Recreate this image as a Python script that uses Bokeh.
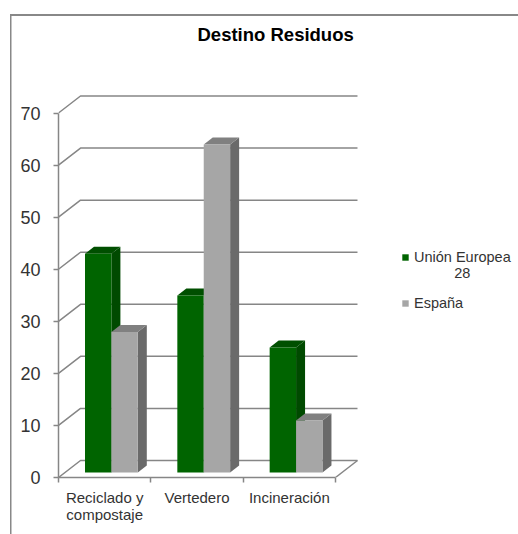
from bokeh.plotting import figure
from bokeh.models import (ColumnDataSource, FixedTicker, Legend,
                          LegendItem, Range1d)
from bokeh.embed import file_html
from bokeh.resources import INLINE

title = "Destino Residuos"
categories = ["Reciclado y\ncompostaje", "Vertedero", "Incineración"]
series_names = ["\u00a0\nUnión Europea\n" + "\u00a0" * 10 + "28", "España"]
union_europea = [42, 34, 24]
espana = [27, 63, 10]
y_ticks = [0, 10, 20, 30, 40, 50, 60, 70]

GRID = "#868686"
TEXT = "#333333"
FRONT = ["#006400", "#a6a6a6"]
TOP = ["#004f00", "#808080"]
SIDE = ["#004a00", "#6a6a6a"]

FRAME_W, FRAME_H = 460, 387
X_PX = 92.33          # pixels per category
Y_PX = 5.207          # pixels per value unit
WALL_DX, WALL_DY = 22 / X_PX, 17 / Y_PX
BAR_DX, BAR_DY = 9 / X_PX, 7 / Y_PX
BAR_X0, BAR_W = 26.5 / X_PX, 26.4 / X_PX
FLOOR = 5 / Y_PX

border_css = ("linear-gradient(#888,#888) 9.5px 14px / 1.5px 520px no-repeat, "
              "linear-gradient(#888,#888) 9.5px 14px / 510px 2px no-repeat")

p = figure(width=518, height=534, output_backend="svg", toolbar_location=None,
           frame_width=FRAME_W, frame_height=FRAME_H,
           x_range=Range1d(0, FRAME_W / X_PX), y_range=Range1d(0, FRAME_H / Y_PX),
           min_border_left=58, min_border_right=0, min_border_top=90, min_border_bottom=57,
           outline_line_color=None, background_fill_color=None, border_fill_color=None,
           styles={"background": border_css})
p.grid.visible = False

p.title.text = title + "\n\u00a0"
p.title.align = "left"
p.title.offset = 139
p.title.standoff = 45
p.title.vertical_align = "top"
p.title.text_font = "Liberation Sans"
p.title.text_font_size = "18.5px"
p.title.text_font_style = "bold"
p.title.text_color = "#000000"

# axes
ya = p.yaxis[0]
ya.ticker = FixedTicker(ticks=y_ticks)
ya.bounds = (0, 70)
ya.major_tick_in, ya.major_tick_out = 0, 5
ya.minor_tick_line_color = None
ya.major_label_standoff = 13
ya.major_label_text_font = "Liberation Sans"
ya.major_label_text_font_size = "18px"
ya.major_label_text_color = TEXT
ya.axis_line_color = ya.major_tick_line_color = GRID
ya.axis_line_width = ya.major_tick_line_width = 1.5

xa = p.xaxis[0]
label_pos = [i + 0.5 for i in range(len(categories))]
xa.ticker = FixedTicker(ticks=label_pos, minor_ticks=list(range(len(categories) + 1)))
xa.major_label_overrides = dict(zip(label_pos, categories))
xa.bounds = (0, len(categories))
xa.major_tick_in, xa.major_tick_out = 0, 0
xa.minor_tick_in, xa.minor_tick_out = 0, 5
xa.major_label_standoff = 6
xa.major_label_text_font = "Liberation Sans"
xa.major_label_text_font_size = "15px"
xa.major_label_text_line_height = 1.05
xa.major_label_text_color = TEXT
xa.axis_line_color = xa.minor_tick_line_color = GRID
xa.axis_line_width = xa.minor_tick_line_width = 1.5

# 3-D walls: diagonal from the axis to the back wall, then along the back wall
n = len(categories)
p.multi_line([[0, WALL_DX, n + WALL_DX] for _ in y_ticks],
             [[v, v + WALL_DY, v + WALL_DY] for v in y_ticks],
             line_color=GRID, line_width=1.5)
p.line([n, n + WALL_DX], [0, WALL_DY], line_color=GRID, line_width=1.5)

# bars
legend_items = []
for s, values in enumerate([union_europea, espana]):
    lefts = [i + BAR_X0 + s * BAR_W for i in range(n)]
    rights = [l + BAR_W for l in lefts]
    tops = [v + FLOOR for v in values]
    p.patches([[r, r + BAR_DX, r + BAR_DX, r] for r in rights],
              [[FLOOR, FLOOR + BAR_DY, t + BAR_DY, t] for t in tops],
              fill_color=SIDE[s], line_color=None)
    p.patches([[l, l + BAR_DX, r + BAR_DX, r] for l, r in zip(lefts, rights)],
              [[t, t + BAR_DY, t + BAR_DY, t] for t in tops],
              fill_color=TOP[s], line_color=None)
    src = ColumnDataSource(dict(left=lefts, right=rights, top=tops, bottom=[FLOOR] * n))
    r = p.quad(left="left", right="right", top="top", bottom="bottom", source=src,
               fill_color=FRONT[s], line_color=None)
    legend_items.append(LegendItem(label=series_names[s], renderers=[r]))

legend = Legend(items=legend_items, location=(343, 166), background_fill_alpha=0, border_line_color=None,
                glyph_width=8, glyph_height=8, label_text_font="Liberation Sans", label_text_font_size="14.5px",
                label_text_color=TEXT, spacing=14, padding=0, margin=0, label_standoff=5)
p.add_layout(legend, "center")

open("out.html", "w").write(file_html(p, INLINE))
